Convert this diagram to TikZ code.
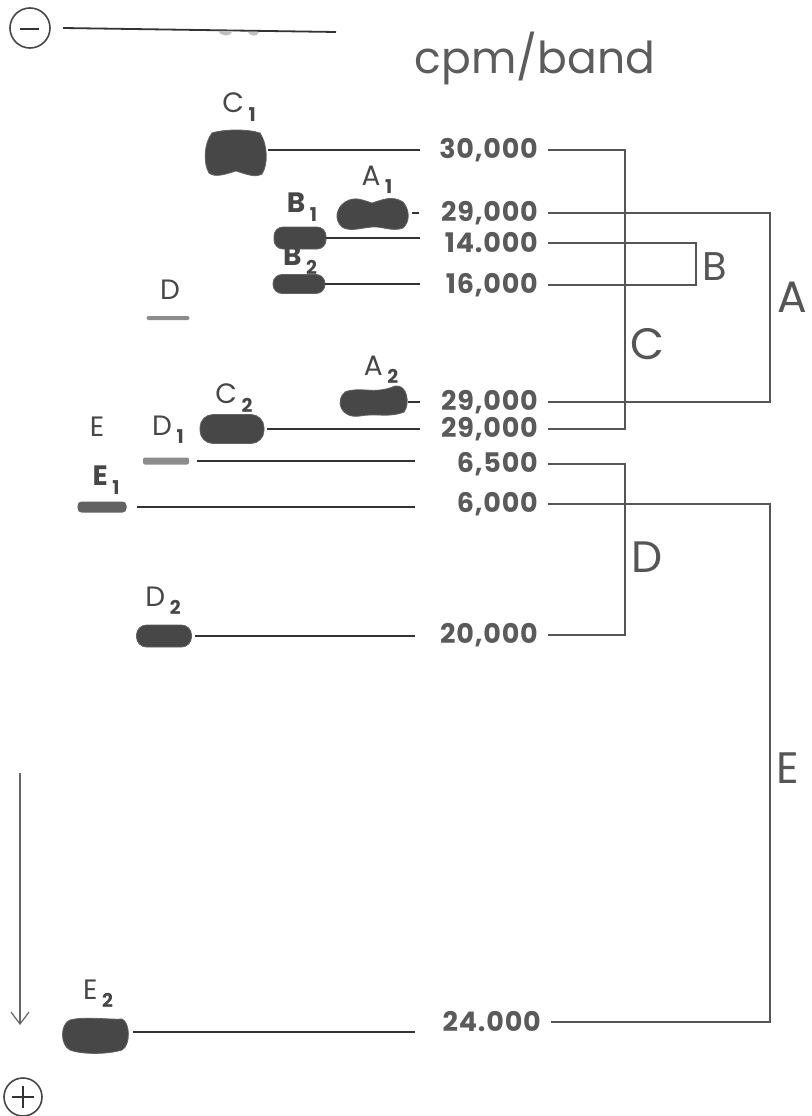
\documentclass[tikz,border=0pt]{standalone}
\usepackage{fontspec}
\setmainfont{Poppins}
\usetikzlibrary{arrows.meta}

\definecolor{ink}{HTML}{333333}
\definecolor{bandgray}{HTML}{474747}
\definecolor{faint}{HTML}{8C8C8C}
\definecolor{numgray}{HTML}{5A5A5A}
\definecolor{brkgray}{HTML}{555555}

% bold subscript used in the band labels
\newcommand\bsub[1]{\,\raisebox{-0.3em}{\bfseries\fontsize{19}{19}\selectfont #1}}

\tikzset{
  band/.style={fill=bandgray, draw=bandgray!85, line width=0.8pt},
  pill/.style={band, rounded corners=9pt, inner sep=0pt},
  faintband/.style={fill=faint, draw=none, rounded corners=2pt, inner sep=0pt},
  lead/.style={draw=ink, line width=1.8pt},
  brk/.style={draw=brkgray, line width=2pt, line join=miter},
  cnt/.style={anchor=east, inner xsep=10pt, inner ysep=0pt,
              font=\bfseries\fontsize{27}{27}\selectfont\addfontfeature{LetterSpace=3}, text=numgray},
  lbl/.style={inner sep=0pt, text=ink!90, font=\fontsize{28}{28}\selectfont},
  lblb/.style={lbl, font=\bfseries\fontsize{28}{28}\selectfont},
  grp/.style={anchor=west, inner sep=0pt, text=brkgray},
  electrode/.style={circle, draw=ink!90, line width=1.6pt, inner sep=0pt},
}

\begin{document}
\begin{tikzpicture}[x=1pt,y=-1pt]
\path[use as bounding box, fill=white] (0,0) rectangle (811,1116);

% electrodes and origin line
\node[electrode, minimum size=40pt] (cathode) at (30,28) {};
\draw[ink, line width=2pt] ([xshift=-10pt,yshift=-1pt]cathode.center) -- ([xshift=9pt,yshift=-1pt]cathode.center);
\node[electrode, minimum size=38pt] (anode) at (23,1097) {};
\draw[ink, line width=2pt] ([xshift=-11pt]anode.center) -- ([xshift=11pt]anode.center)
  ([yshift=-11pt]anode.center) -- ([yshift=11pt]anode.center);
\coordinate (orgL) at (63,28);
\coordinate (orgR) at (336,32);
\draw[lead] (orgL) -- (orgR);
\fill[faint!55] (218,31) .. controls (222,37) and (230,37) .. (233,31) -- cycle;
\fill[faint!55] (248,32) .. controls (251,37) and (257,37) .. (259,32) -- cycle;

% direction of migration
\coordinate (arT) at (20,773);
\coordinate (arB) at (20,1025);
\draw[draw=ink!75, line width=1.2pt, -{Straight Barb[length=12pt,width=18pt,line width=1.2pt]}] (arT) -- (arB);

\node[text=ink!80, font=\fontsize{44}{44}\selectfont, inner sep=0pt] (title) at (535,58) {cpm/band};

% ---- bands ----
% C1
\path[band] (212,133) .. controls (225,129) and (248,129) .. (260,133)
  .. controls (268,145) and (268,165) .. (262,174)
  .. controls (255,178) and (246,174) .. (236,171)
  .. controls (226,174) and (215,178) .. (209,173)
  .. controls (203,163) and (204,143) .. (212,133) -- cycle;
\coordinate (C1) at (268,150);
\node[lbl] (lC1) at (239,107) {C\bsub{1}};

% A1
\path[band] (345,202) .. controls (355,196) and (362,200) .. (372,203)
  .. controls (382,200) and (392,195) .. (403,202)
  .. controls (410,210) and (410,222) .. (403,228)
  .. controls (392,232) and (382,226) .. (372,227)
  .. controls (360,228) and (350,232) .. (342,227)
  .. controls (334,220) and (336,208) .. (345,202) -- cycle;
\coordinate (A1) at (412,213);
\node[lbl] (lA1) at (377,180) {A\bsub{1}};

% B1, B2
\node[pill, minimum width=52pt, minimum height=22pt] (B1) at (300,238) {};
\node[lblb] (lB1) at (302,207) {B\bsub{1}};
\node[pill, minimum width=52pt, minimum height=19pt] (B2) at (299,284) {};
\node[lblb] (lB2) at (300,260) {B\bsub{2}};

% D (faint)
\node[faintband, minimum width=43pt, minimum height=4pt] (D0) at (168,318) {};
\node[lbl] (lD0) at (170,290) {D};

% A2
\path[band] (345,392) .. controls (360,386) and (375,395) .. (395,386)
  .. controls (408,384) and (410,405) .. (404,412)
  .. controls (390,418) and (375,413) .. (360,416)
  .. controls (340,419) and (335,400) .. (345,392) -- cycle;
\coordinate (A2) at (408,402);
\node[lbl] (lA2) at (381,370) {A\bsub{2}};

% C2
\node[pill, rounded corners=13pt, minimum width=64pt, minimum height=29pt] (C2) at (232,429) {};
\node[lbl] (lC2) at (234,398) {C\bsub{2}};

% E, D1, E1
\node[lbl] (lE0) at (97,427) {E};
\node[faintband, minimum width=46pt, minimum height=7pt] (D1) at (166,461) {};
\node[lbl] (lD1) at (168,430) {D\bsub{1}};
\node[faintband, fill=faint!70!black, minimum width=49pt, minimum height=11pt, rounded corners=4pt] (E1) at (102,507) {};
\node[lblb] (lE1) at (106,480) {E\bsub{1}};

% D2
\node[pill, rounded corners=10pt, minimum width=55pt, minimum height=22pt] (D2) at (164,636) {};
\node[lbl] (lD2) at (163,601) {D\bsub{2}};

% E2
\path[band] (70,1020) .. controls (85,1016) and (110,1020) .. (122,1019)
  .. controls (130,1022) and (131,1045) .. (122,1050)
  .. controls (105,1055) and (80,1054) .. (70,1050)
  .. controls (60,1045) and (60,1024) .. (70,1020) -- cycle;
\coordinate (E2) at (133,1032);
\node[lbl] (lE2) at (98,994) {E\bsub{2}};

% ---- leader lines to the counts ----
\coordinate (lend) at (420,0);
\coordinate (lendS) at (415,0);
\draw[lead] (C1) -- (C1 -| lend);
\draw[lead] (A1) -- ++(7,0);
\draw[lead] (B1.east) -- (B1.east -| lend);
\draw[lead] (B2.east) -- (B2.east -| lend);
\draw[lead] (A2) -- ++(12,0);
\draw[lead] ([xshift=3pt]C2.east) -- (C2.east -| lend);
\draw[lead] ([xshift=8pt]D1.east) -- (D1.east -| lendS);
\draw[lead] ([xshift=10pt]E1.east) -- (E1.east -| lendS);
\draw[lead] ([xshift=3pt]D2.east) -- (D2.east -| lendS);
\draw[lead] (E2) -- (E2 -| lendS);

% ---- counts ----
\node[cnt] (nC1) at (548,150) {30,000};
\node[cnt] (nA1) at (548,213) {29,000};
\node[cnt] (nB1) at (548,243) {14.000};
\node[cnt] (nB2) at (548,285) {16,000};
\node[cnt] (nA2) at (548,402) {29,000};
\node[cnt] (nC2) at (548,429) {29,000};
\node[cnt] (nD1) at (548,464) {6,500};
\node[cnt] (nE1) at (548,504) {6,000};
\node[cnt] (nD2) at (548,635) {20,000};
\node[cnt] (nE2) at (551,1022) {24.000};

% ---- pairing brackets ----
\coordinate (cx) at (625,0);
\coordinate (bx) at (696,0);
\coordinate (ax) at (770,0);
\draw[brk] (nC1.east) -- (nC1.east -| cx) -- (nC2.east -| cx) -- (nC2.east);
\draw[brk] (nA1.east) -- (nA1.east -| ax) -- (nA2.east -| ax) -- (nA2.east);
\draw[brk] (nB1.east) -- (nB1.east -| bx) -- (nB2.east -| bx) -- (nB2.east);
\draw[brk] (nD1.east) -- (nD1.east -| cx) -- (nD2.east -| cx) -- (nD2.east);
\draw[brk] (nE1.east) -- (nE1.east -| ax) -- (nE2.east -| ax) -- (nE2.east);

\node[grp, font=\fontsize{40}{40}\selectfont] (gB) at (702,267) {B};
\node[grp, font=\fontsize{44}{44}\selectfont] (gA) at (777,297) {A};
\node[grp, font=\fontsize{44}{44}\selectfont] (gC) at (630,344) {C};
\node[grp, font=\fontsize{44}{44}\selectfont] (gD) at (631,557) {D};
\node[grp, font=\fontsize{44}{44}\selectfont] (gE) at (776,768) {E};
\end{tikzpicture}
\end{document}
